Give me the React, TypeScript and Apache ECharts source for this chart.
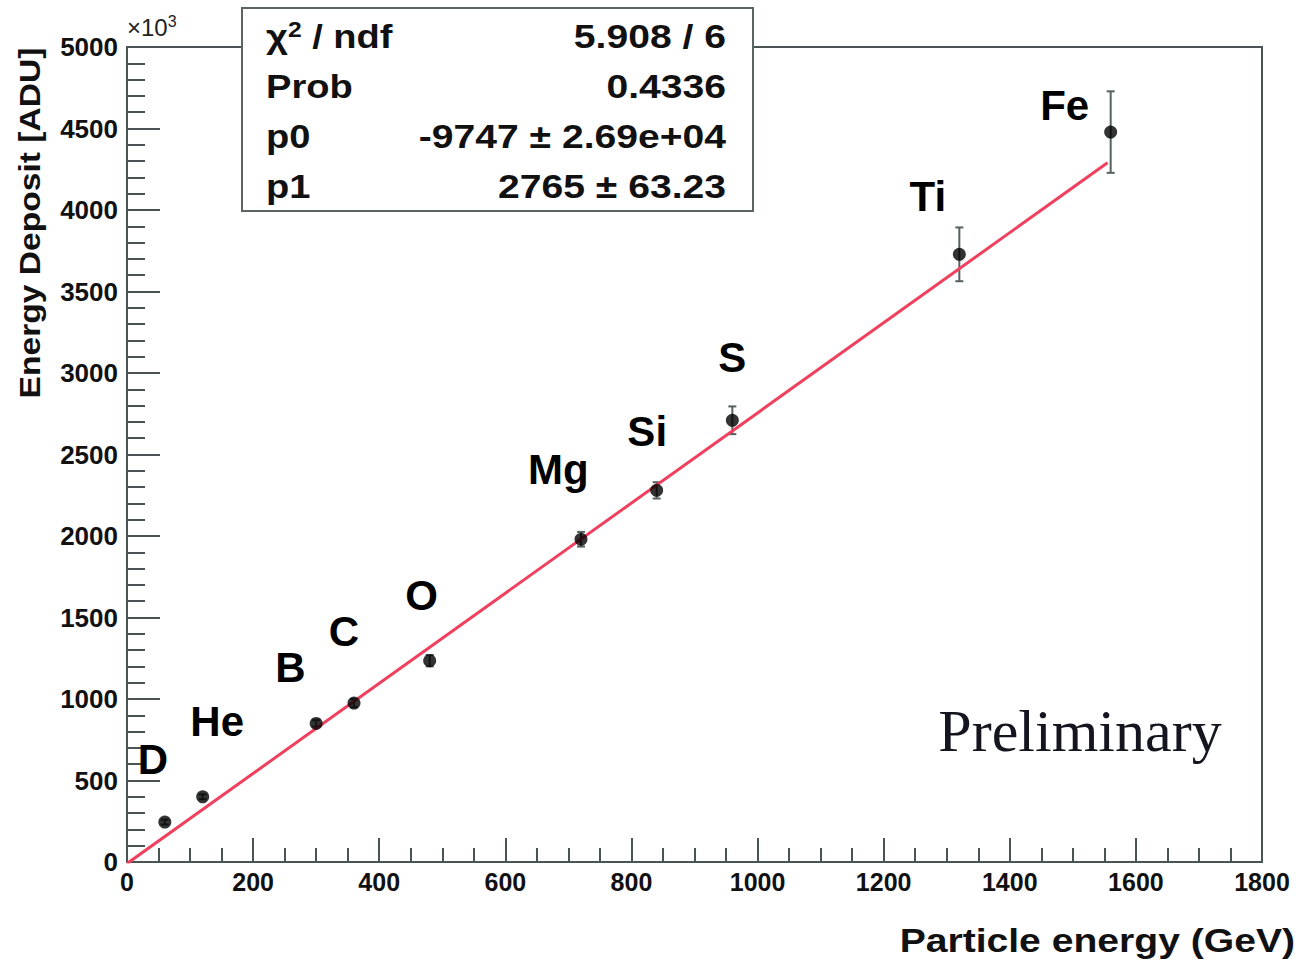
import React, { useEffect, useRef } from "react";
import * as echarts from "echarts";

const elements = ["D", "He", "B", "C", "O", "Mg", "Si", "S", "Ti", "Fe"];
const energies = [60, 120, 300, 360, 480, 720, 840, 960, 1320, 1560];
const deposits = [245, 400, 850, 975, 1235, 1980, 2280, 2710, 3728, 4478];
const errors = [15, 15, 20, 25, 35, 45, 50, 85, 165, 250];
// label anchor points in data coordinates
const labelX = [41, 143, 259, 344, 467, 684, 825, 960, 1270, 1487];
const labelY = [627, 860, 1192, 1413, 1634, 2408, 2641, 3096, 4085, 4644];

const fitNames = ["\u03c7\u00b2 / ndf", "Prob", "p0", "p1"];
const fitValues = ["5.908 / 6", "0.4336", "-9747 \u00b1 2.69e+04", "2765 \u00b1 63.23"];
const p0 = -9747;
const p1 = 2765;
const fitRange = [0, 1555];

const xTicks = [0, 200, 400, 600, 800, 1000, 1200, 1400, 1600, 1800];
const yTicks = [0, 500, 1000, 1500, 2000, 2500, 3000, 3500, 4000, 4500, 5000];

export default function App() {
  const ref = useRef<HTMLDivElement>(null);
  useEffect(() => {
    if (!ref.current) return;
    const chart = echarts.init(ref.current, null, { renderer: "svg" });
    const font = "'Liberation Sans', Arial, sans-serif";
    const fitLine = fitRange.map((x) => [x, (p0 + p1 * x) / 1000]);
    const errData = energies.map((x, i) => [x, deposits[i] - errors[i], deposits[i] + errors[i]]);

    const statsGraphics: any[] = [
      {
        type: "rect",
        shape: { x: 242, y: 8, width: 511, height: 203 },
        style: { fill: "#fff", stroke: "#5a6463", lineWidth: 2 },
        z: 10,
      },
    ];
    fitNames.forEach((n, i) => {
      statsGraphics.push({
        type: "text",
        x: 266,
        y: 36 + i * 50,
        scaleX: 1.12,
        z: 11,
        style: {
          text: i === 0 ? "{c|\u03c7}{s|2}{c| / ndf}" : n,
          font: `bold 34px ${font}`,
          fill: "#111",
          textVerticalAlign: "middle",
          rich:
            i === 0
              ? {
                  c: { fontFamily: font, fontWeight: "bold", fontSize: 34, fill: "#111" },
                  s: { fontFamily: font, fontWeight: "bold", fontSize: 22, fill: "#111", padding: [0, 0, 14, 0] },
                }
              : undefined,
        },
      });
      statsGraphics.push({
        type: "text",
        x: 726,
        y: 36 + i * 50,
        scaleX: 1.15,
        z: 11,
        style: {
          text: fitValues[i],
          font: `bold 34px ${font}`,
          fill: "#111",
          textAlign: "right",
          textVerticalAlign: "middle",
        },
      });
    });

    chart.setOption({
      animation: false,
      backgroundColor: "#fff",
      grid: {
        left: 127,
        right: 41,
        top: 47,
        bottom: 99,
        show: true,
        borderColor: "#4a5453",
        borderWidth: 2,
        backgroundColor: "transparent",
      },
      xAxis: {
        type: "value",
        min: xTicks[0],
        max: xTicks[xTicks.length - 1],
        interval: 200,
        axisLine: { show: true, onZero: false, lineStyle: { color: "#4a5453", width: 2 } },
        axisTick: { show: true, inside: true, length: 24, lineStyle: { color: "#4a5453", width: 2 } },
        minorTick: { show: true, splitNumber: 4, length: 14, lineStyle: { color: "#4a5453", width: 2 } },
        splitLine: { show: false },
        axisLabel: {
          color: "#111",
          fontFamily: font,
          fontWeight: "bold",
          fontSize: 25,
          margin: 7,
          formatter: (v: number) => String(v),
        },
      },
      yAxis: {
        type: "value",
        min: yTicks[0],
        max: yTicks[yTicks.length - 1],
        interval: 500,
        axisLine: { show: true, onZero: false, lineStyle: { color: "#4a5453", width: 2 } },
        axisTick: { show: true, inside: true, length: 33, lineStyle: { color: "#4a5453", width: 2 } },
        minorTick: { show: true, splitNumber: 5, length: 18, lineStyle: { color: "#4a5453", width: 2 } },
        splitLine: { show: false },
        axisLabel: {
          color: "#111",
          fontFamily: font,
          fontWeight: "bold",
          fontSize: 26,
          margin: 9,
          formatter: (v: number) => String(v),
        },
      },
      series: [
        {
          type: "custom",
          name: "errors",
          data: errData,
          renderItem: (params: any, api: any) => {
            const x = api.value(0);
            const lo = api.coord([x, api.value(1)]);
            const hi = api.coord([x, api.value(2)]);
            const style = { stroke: "#56605f", lineWidth: 2 };
            return {
              type: "group",
              children: [
                { type: "line", shape: { x1: lo[0], y1: lo[1], x2: hi[0], y2: hi[1] }, style },
                { type: "line", shape: { x1: lo[0] - 4, y1: lo[1], x2: lo[0] + 4, y2: lo[1] }, style },
                { type: "line", shape: { x1: hi[0] - 4, y1: hi[1], x2: hi[0] + 4, y2: hi[1] }, style },
              ],
            };
          },
          z: 2,
        },
        {
          type: "line",
          name: "fit",
          data: fitLine,
          showSymbol: false,
          symbol: "none",
          lineStyle: { color: "#f0405e", width: 3 },
          z: 3,
        },
        {
          type: "scatter",
          name: "data",
          data: energies.map((x, i) => [x, deposits[i]]),
          symbol: "circle",
          symbolSize: 13,
          itemStyle: { color: "#000" },
          z: 4,
        },
        {
          type: "scatter",
          name: "labels",
          data: labelX.map((x, i) => ({ value: [x, labelY[i]], name: elements[i] })),
          symbolSize: 0,
          itemStyle: { color: "#000", opacity: 1 },
          label: {
            show: true,
            position: "inside",
            formatter: (p: any) => p.name,
            color: "#000",
            textBorderWidth: 0,
            fontFamily: font,
            fontWeight: "bold",
            fontSize: 42,
          },
          z: 5,
        },
      ],
      graphic: [
        {
          type: "text",
          x: 127,
          y: 41,
          style: {
            text: "{a|\u00d710}{b|3}",
            fill: "#222",
            textVerticalAlign: "bottom",
            rich: {
              a: { fontFamily: font, fontSize: 24, fill: "#222" },
              b: { fontFamily: font, fontSize: 16, fill: "#222", padding: [0, 0, 12, 0] },
            },
          },
        },
        {
          type: "text",
          x: 30,
          y: 223,
          rotation: Math.PI / 2,
          scaleX: 1.12,
          style: {
            text: "Energy Deposit [ADU]",
            font: `bold 30px ${font}`,
            fill: "#111",
            textAlign: "center",
            textVerticalAlign: "middle",
          },
        },
        {
          type: "text",
          x: 1295,
          y: 940,
          scaleX: 1.15,
          style: {
            text: "Particle energy (GeV)",
            font: `bold 34px ${font}`,
            fill: "#111",
            textAlign: "right",
            textVerticalAlign: "middle",
          },
        },
        {
          type: "text",
          x: 1080,
          y: 731,
          style: {
            text: "Preliminary",
            font: `60px 'Liberation Serif', 'Times New Roman', serif`,
            fill: "#15151f",
            textAlign: "center",
            textVerticalAlign: "middle",
          },
        },
        ...statsGraphics,
      ],
    });
    return () => chart.dispose();
  }, []);
  return (
    <div
      ref={ref}
      style={{ position: "fixed", left: 0, top: 0, width: 1303, height: 961 }}
    />
  );
}
